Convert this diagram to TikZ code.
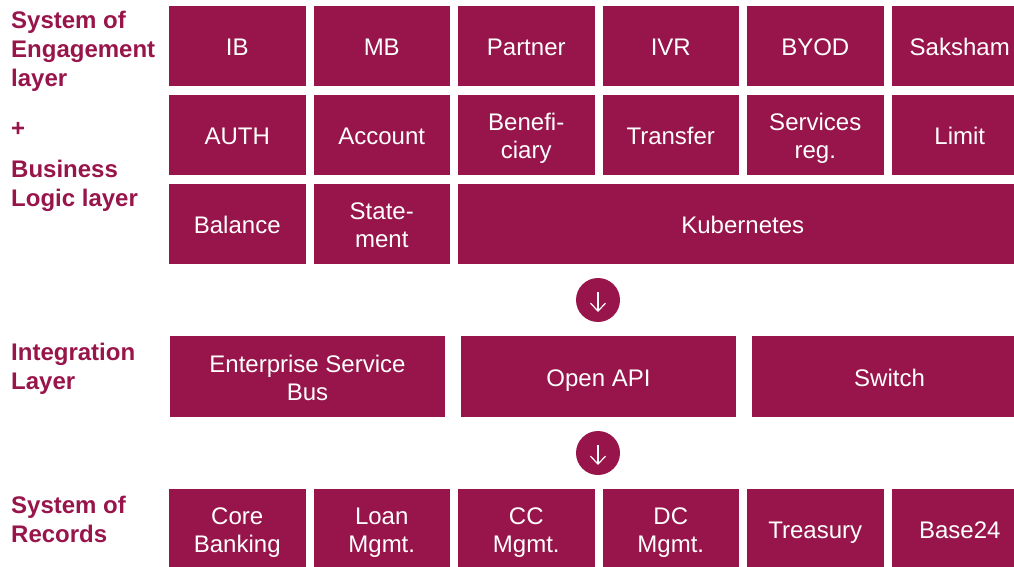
\documentclass[tikz,border=0pt]{standalone}
\usepackage{fontspec}
\setmainfont{Liberation Sans}
\usetikzlibrary{arrows.meta,positioning}
\definecolor{maroon}{HTML}{97154A}
\newcommand\tstrut{\rule{0pt}{25pt}}

\tikzset{
  blockbox/.style={fill=maroon,draw=none,text=white,inner sep=0pt,outer sep=0pt,minimum width=136.5pt,minimum height=80pt,align=center,font=\fontsize{24}{28}\selectfont,
    execute at begin node={\rule{0pt}{25pt}},execute at end node={\rule[-6pt]{0pt}{6pt}}},
  widebox/.style={blockbox,minimum width=275pt,minimum height=81pt},
  layerlbl/.style={text=maroon,inner sep=0pt,align=left,anchor=north west,font=\bfseries\fontsize{24}{29}\selectfont},
  flowdot/.style={circle,fill=maroon,draw=none,minimum size=44pt,inner sep=0pt}
}

\begin{document}
\begin{tikzpicture}[x=1pt,y=-1pt,>=Latex,node distance=8pt]
  \useasboundingbox (0,0) rectangle (1014,567);
  \clip (0,0) rectangle (1014,567);
  % engagement + business logic
  \node[blockbox,anchor=north west] (ib) at (169,6) {IB};
  \node[blockbox,right=of ib] (mb) {MB};
  \node[blockbox,right=of mb] (partner) {Partner};
  \node[blockbox,right=of partner] (ivr) {IVR};
  \node[blockbox,right=of ivr] (byod) {BYOD};
  \node[blockbox,right=of byod] (saksham) {Saksham};
  \node[blockbox,below=9pt of ib] (auth) {AUTH};
  \node[blockbox,right=of auth] (account) {Account};
  \node[blockbox,right=of account] (benef) {\tstrut Benefi-\\ciary};
  \node[blockbox,right=of benef] (transfer) {Transfer};
  \node[blockbox,right=of transfer] (svcreg) {\tstrut Services\\reg.};
  \node[blockbox,right=of svcreg] (limit) {Limit};
  \node[blockbox,below=9pt of auth] (balance) {Balance};
  \node[blockbox,right=of balance] (stmt) {\tstrut State-\\ment};
  \node[blockbox,minimum width=569.5pt,right=of stmt] (kube) {Kubernetes};
  % integration
  \node[widebox,anchor=north west] (esb) at (170,336) {\tstrut Enterprise Service\\Bus};
  \node[widebox,right=16pt of esb] (oapi) {Open API};
  \node[widebox,right=16pt of oapi] (switch) {Switch};
  % records
  \node[blockbox,anchor=north west] (core) at (169,489) {\tstrut Core\\Banking};
  \node[blockbox,right=of core] (loan) {\tstrut Loan\\Mgmt.};
  \node[blockbox,right=of loan] (cc) {\tstrut CC\\Mgmt.};
  \node[blockbox,right=of cc] (dc) {\tstrut DC\\Mgmt.};
  \node[blockbox,right=of dc] (treasury) {Treasury};
  \node[blockbox,right=of treasury] (base) {Base24};
  % flow markers
  \node[flowdot] (flow1) at (598,300) {};
  \node[flowdot] (flow2) at (598,453) {};
  \draw[white,line width=1.2pt,-{Straight Barb[length=8pt,width=15pt]}] ([yshift=8pt]flow1.center) -- ([yshift=-12pt]flow1.center);
  \draw[white,line width=1.2pt,-{Straight Barb[length=8pt,width=15pt]}] ([yshift=8pt]flow2.center) -- ([yshift=-12pt]flow2.center);
  % layer labels
  \node[layerlbl] (soe) at (11,11) {System of\\Engagement\\layer};
  \node[layerlbl,anchor=base west] (plus) at (11,136) {+};
  \node[layerlbl] (blogic) at (11,160) {Business\\Logic layer};
  \node[layerlbl] (integ) at (11,343) {Integration\\Layer};
  \node[layerlbl] (sor) at (11,496) {System of\\Records};
\end{tikzpicture}
\end{document}
